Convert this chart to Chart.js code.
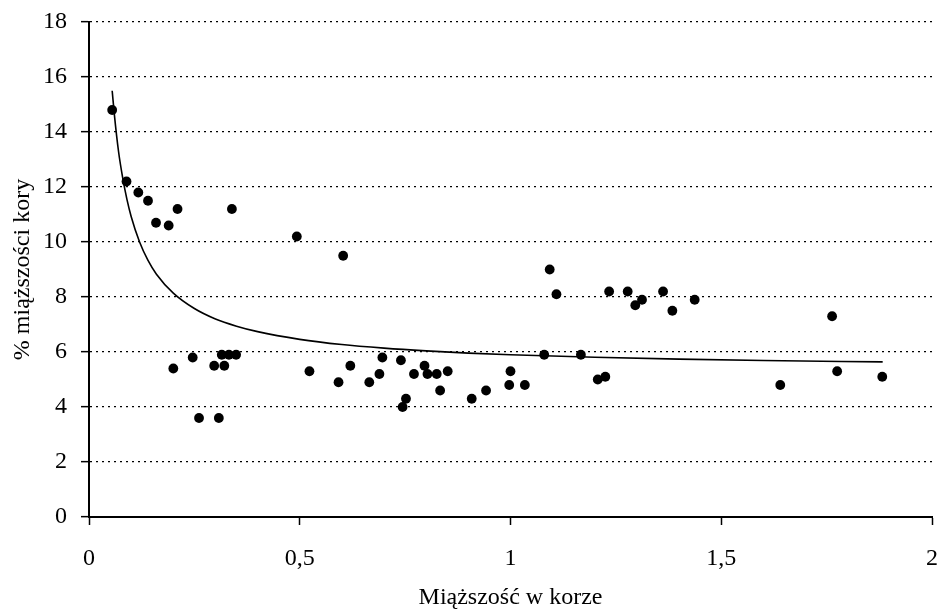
<!DOCTYPE html>
<html>
<head>
<meta charset="utf-8">
<script src="https://cdn.jsdelivr.net/npm/chart.js@4"></script>
<style>
  body { margin: 0; background: #fff; }
</style>
</head>
<body>
<canvas id="wykres" width="941" height="616"></canvas>
<script>
// Pomiary: miąższość w korze i % miąższości kory
const barkX = [0.055, 0.089, 0.117, 0.14, 0.159, 0.189, 0.21, 0.339, 0.493, 0.603,
  0.2, 0.246, 0.261, 0.297, 0.308, 0.315, 0.321, 0.332, 0.349, 0.523,
  0.592, 0.62, 0.665, 0.689, 0.696, 0.74, 0.744, 0.752, 0.771, 0.796,
  0.803, 0.825, 0.833, 0.851, 0.908, 0.942, 0.997, 1.0, 1.034, 1.08,
  1.093, 1.109, 1.167, 1.207, 1.225, 1.234, 1.278, 1.296, 1.312, 1.362,
  1.384, 1.437, 1.64, 1.763, 1.775, 1.882];
const barkY = [14.8, 12.2, 11.8, 11.5, 10.7, 10.6, 11.2, 11.2, 10.2, 9.5,
  5.4, 5.8, 3.6, 5.5, 3.6, 5.9, 5.5, 5.9, 5.9, 5.3,
  4.9, 5.5, 4.9, 5.2, 5.8, 5.7, 4.0, 4.3, 5.2, 5.5,
  5.2, 5.2, 4.6, 5.3, 4.3, 4.6, 4.8, 5.3, 4.8, 5.9,
  9.0, 8.1, 5.9, 5.0, 5.1, 8.2, 8.2, 7.7, 7.9, 8.2,
  7.5, 7.9, 4.8, 7.3, 5.3, 5.1];

// Linia trendu
const trendX = [0.055, 0.06, 0.07, 0.08, 0.09, 0.1, 0.12, 0.14, 0.16, 0.2,
  0.25, 0.3, 0.35, 0.4, 0.5, 0.6, 0.7, 0.8, 0.9, 1.0,
  1.2, 1.4, 1.6, 1.883];
const trendY = [15.5, 14.66, 13.3, 12.33, 11.55, 10.93, 10.0, 9.33, 8.83, 8.14,
  7.58, 7.2, 6.94, 6.74, 6.46, 6.27, 6.14, 6.04, 5.96, 5.9,
  5.81, 5.74, 5.69, 5.64];

const xTicks = [0, 0.5, 1, 1.5, 2];
const yTicks = [0, 2, 4, 6, 8, 10, 12, 14, 16, 18];

const punkty = barkX.map((x, i) => ({ x: x, y: barkY[i] }));
const trend = trendX.map((x, i) => ({ x: x, y: trendY[i] }));

const czcionka = { family: "'Liberation Serif', 'Times New Roman', serif", size: 24 };

new Chart(document.getElementById("wykres").getContext("2d"), {
  type: "scatter",
  data: {
    datasets: [
      {
        label: "trend",
        data: trend,
        showLine: true,
        borderColor: "#000",
        borderWidth: 1.6,
        pointRadius: 0,
        tension: 0.4,
        cubicInterpolationMode: "monotone",
        fill: false,
      },
      {
        label: "pomiary",
        data: punkty,
        backgroundColor: "#000",
        borderWidth: 0,
        pointRadius: 4.9,
      },
    ],
  },
  options: {
    responsive: false,
    animation: false,
    layout: { padding: { top: 22, right: 9, left: 0, bottom: 0 } },
    plugins: {
      legend: { display: false },
      tooltip: { enabled: false },
    },
    scales: {
      x: {
        type: "linear",
        min: 0,
        max: 2,
        afterBuildTicks: (s) => { s.ticks = xTicks.map((v) => ({ value: v })); },
        afterFit: (s) => {
          s.height = 99;
          s.paddingLeft = 0;
          s.paddingRight = 0;
        },
        ticks: {
          color: "#000",
          font: czcionka,
          padding: 19,
          maxRotation: 0,
          callback: (v) => String(v).replace(".", ","),
        },
        grid: {
          drawOnChartArea: false,
          tickLength: 8,
          tickColor: "#000",
          tickWidth: 1.5,
        },
        border: { color: "#000", width: 2 },
        title: {
          display: true,
          text: "Miąższość w korze",
          color: "#000",
          font: czcionka,
          padding: { top: 8, bottom: 3.5 },
        },
      },
      y: {
        min: 0,
        max: 18,
        afterBuildTicks: (s) => { s.ticks = yTicks.map((v) => ({ value: v })); },
        afterFit: (s) => {
          s.width = 89;
          s.paddingTop = 0;
          s.paddingBottom = 0;
        },
        ticks: {
          color: "#000",
          font: czcionka,
          padding: 14,
        },
        grid: {
          color: "#000",
          lineWidth: 1.3,
          tickLength: 8,
          tickColor: "#000",
          tickWidth: 1.5,
          tickBorderDash: [],
        },
        border: { color: "#000", width: 2, dash: [2, 4] },
        title: {
          display: true,
          text: "% miąższości kory",
          color: "#000",
          font: czcionka,
          padding: { top: 8, bottom: 0 },
        },
      },
    },
  },
});
</script>
</body>
</html>
